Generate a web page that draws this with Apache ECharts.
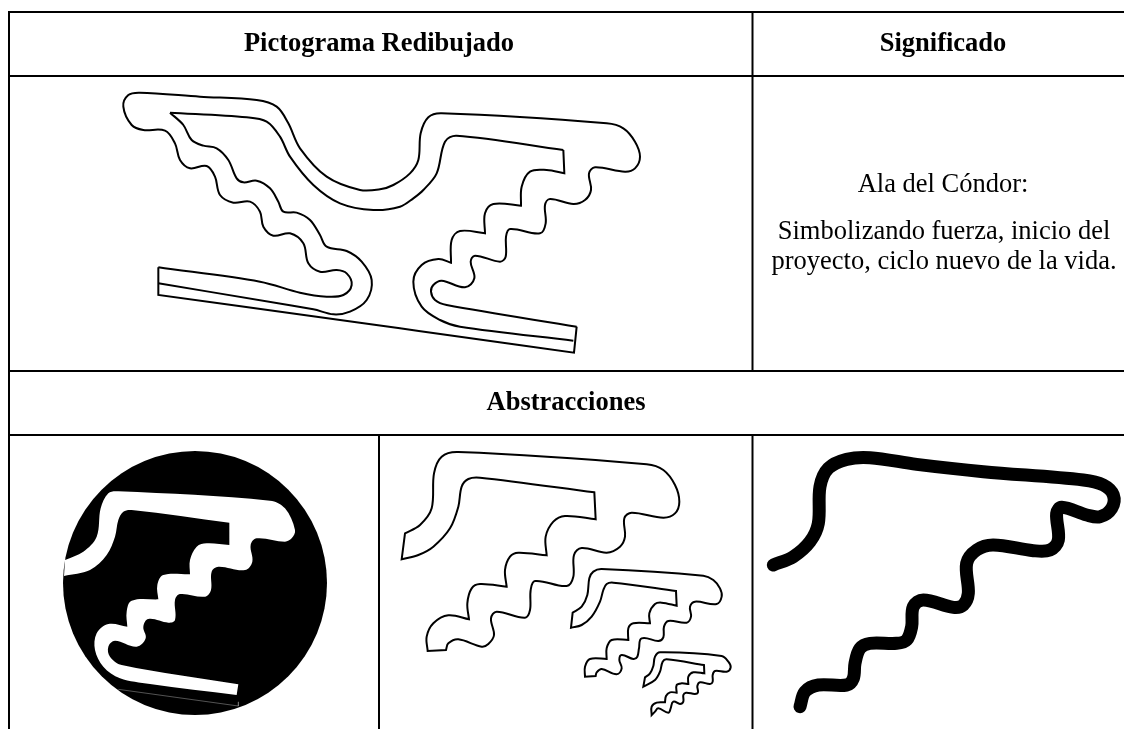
<!DOCTYPE html>
<html><head><meta charset="utf-8">
<style>html,body{margin:0;padding:0;background:#fff}#c{width:1124px;height:729px}</style>
<script src="https://cdn.jsdelivr.net/npm/echarts@6/dist/echarts.min.js"></script>
</head><body><div id="c"></div>
<script>
// Every contour is a list of runs; each run is a smooth curve, runs meet at sharp corners.
const gridRules=[[[8,12],[1124,12]],[[8,76],[1124,76]],[[8,371],[1124,371]],[[8,435],[1124,435]],[[9,12],[9,729]],[[752.5,12],[752.5,371]],[[752.5,435],[752.5,729]],[[379,435],[379,729]]];
const headerLabels=[["Pictograma Redibujado",379,44],["Significado",943,44],["Abstracciones",566,403]];
const bodyLabels=[["Ala del Cóndor:",943,185],["Simbolizando fuerza, inicio del",944,232],["proyecto, ciclo nuevo de la vida.",944,262]];
const z=(ox,oy,s,a)=>a.map(p=>[ox+p[0]/s,oy+p[1]/s]);
const condorOuterRuns=[
 z(100,70,3,[[175,592],[480,635],[600,668],[680,680],[730,675],[755,645],[740,610],[710,600],[660,605],[625,580],[610,520],[570,490],[520,497],[490,470],[480,425],[450,395],[400,398],[360,375],[345,320],[320,288],[270,295],[240,270],[225,220],[195,182],[130,180],[95,165],[70,110],[85,75],[120,68],[300,80],[470,90],[530,110],[565,160],[600,235],[680,320],[780,360],[840,358]]).concat(
 z(350,90,3,[[130,285],[180,250],[205,210],[212,130],[235,82],[275,70],[770,100],[820,115],[855,155],[870,200],[855,235],[825,245],[735,232],[717,250],[723,300],[705,330],[670,342],[600,327],[585,345],[587,400],[570,430],[480,417],[468,440],[467,500],[450,515],[375,497],[362,515],[373,565],[345,592],[275,572],[250,585],[243,605],[255,630],[290,645],[680,710]]))
];
const condorInnerCrossRuns=[
 z(100,70,3,[[210,128],[440,142],[500,155],[540,200],[570,260],[640,345],[720,400],[820,420],[900,410]]).concat(
 z(350,90,3,[[190,325],[220,300],[260,250],[285,155],[320,137],[640,180]]))
];
const condorInnerLeftRuns=[
 z(100,70,3,[[210,128],[250,165],[275,210],[310,227],[350,235],[385,270],[410,325],[430,337],[470,332],[510,355],[535,395],[550,425],[590,428],[630,450],[660,495],[680,530],[740,543],[785,575],[815,630],[800,690],[750,725],[700,733],[640,718],[175,640]])
];
const condorInnerRightRuns=[
 z(350,90,3,[[640,180],[643,250]]),
 z(350,90,3,[[643,250],[590,240],[540,245],[515,290],[513,347]]),
 z(350,90,3,[[513,347],[430,342],[405,370],[405,430]]),
 z(350,90,3,[[405,430],[330,423],[305,450],[303,518]]),
 z(350,90,3,[[303,518],[265,507],[215,525],[190,575],[215,650],[270,690],[330,710],[670,752]])
];
const condorBarRuns=[
 z(100,70,3,[[175,592],[175,675]]),
 z(100,70,3,[[175,675],[900,775]]).concat(z(350,90,3,[[672,788]])),
 z(350,90,3,[[672,788],[680,710]])
];
const whiteWingRuns=[
 z(40,430,3,[[75,390],[130,365],[170,320],[182,235],[205,190],[235,184],[690,212],[735,235],[765,300],[755,325],[735,335],[650,325],[632,345],[637,395],[615,420],[535,410],[515,425],[513,480],[495,500],[420,492],[405,510],[405,570],[385,578],[325,567],[310,590],[317,625],[290,650],[225,632],[205,650],[210,680],[245,705],[595,763]]),
 z(40,430,3,[[595,763],[590,795]]),
 z(40,430,3,[[590,795],[330,762],[240,745],[190,710],[165,660],[170,610],[205,582],[262,590]]),
 z(40,430,3,[[262,590],[260,545],[275,512],[355,508]]),
 z(40,430,3,[[355,508],[352,465],[370,435],[450,433]]),
 z(40,430,3,[[450,433],[450,390],[470,350],[500,340],[568,345]]),
 z(40,430,3,[[568,345],[568,278]]),
 z(40,430,3,[[568,278],[275,240],[250,245],[235,270],[225,320],[200,375],[150,420],[72,438]]),
 z(40,430,3,[[72,438],[75,390]])
];
const largeWingRuns=[
 z(390,430,3,[[45,310],[90,285],[125,235],[132,130],[155,80],[205,66],[770,103],[820,120],[855,165],[868,215],[855,250],[820,263],[725,248],[703,265],[705,320],[690,350],[650,368],[575,354],[552,375],[550,440],[530,468],[435,453],[422,480],[420,540],[405,563],[320,545],[303,565],[312,615],[295,642],[275,650],[205,628],[175,640],[168,660]]),
 z(390,430,3,[[168,660],[113,663]]),
 z(390,430,3,[[113,663],[110,620],[130,580],[175,556],[237,568]]),
 z(390,430,3,[[237,568],[232,520],[245,475],[270,462],[350,470]]),
 z(390,430,3,[[350,470],[345,420],[360,380],[385,368],[470,376]]),
 z(390,430,3,[[470,376],[467,320],[490,275],[525,258],[617,268]]),
 z(390,430,3,[[617,268],[613,187]]),
 z(390,430,3,[[613,187],[270,143],[235,147],[215,170],[205,230],[180,295],[130,350],[85,375],[35,388]]),
 z(390,430,3,[[35,388],[45,310]])
];
const mediumWingRuns=[
 z(560,560,3,[[38,158],[65,140],[82,105],[88,55],[100,35],[125,27],[430,47],[460,60],[480,85],[485,110],[470,132],[405,125],[390,140],[393,170],[380,188],[325,183],[312,200],[310,232],[295,243],[245,235],[237,265],[232,290],[220,297],[185,285],[178,300],[185,325],[170,343],[125,327],[110,337],[107,348]]),
 z(560,560,3,[[107,348],[75,350]]),
 z(560,560,3,[[75,350],[75,320],[90,297],[140,297]]),
 z(560,560,3,[[140,297],[140,265],[155,240],[205,240]]),
 z(560,560,3,[[205,240],[205,205],[220,190],[270,190]]),
 z(560,560,3,[[270,190],[268,160],[285,132],[305,128],[350,137]]),
 z(560,560,3,[[350,137],[348,93]]),
 z(560,560,3,[[348,93],[160,68],[140,72],[130,90],[120,125],[95,170],[65,195],[33,203]]),
 z(560,560,3,[[33,203],[38,158]])
];
const smallWingRuns=[
 z(560,560,3,[[255,352],[270,340],[280,318],[285,290],[300,277],[485,288],[505,305],[512,322],[500,335],[465,333],[458,345],[458,365],[450,372],[420,367],[412,378],[412,400],[378,398],[370,405],[370,425],[360,432],[340,425],[332,445],[325,458],[295,445],[285,455],[275,465]]),
 z(560,560,3,[[275,465],[275,440],[290,428],[315,427]]),
 z(560,560,3,[[315,427],[318,408],[330,397],[350,398]]),
 z(560,560,3,[[350,398],[350,375],[365,370],[385,372]]),
 z(560,560,3,[[385,372],[385,350],[400,337],[433,340]]),
 z(560,560,3,[[433,340],[432,315]]),
 z(560,560,3,[[432,315],[320,298],[308,305],[300,335],[285,360],[250,380]]),
 z(560,560,3,[[250,380],[255,352]])
];
const thickCurveRuns=[
 z(750,430,3,[[70,405],[130,380],[180,335],[205,280],[210,170],[235,115],[290,88],[360,83],[500,103],[700,125],[1000,150],[1060,165],[1090,195],[1085,235],[1050,260],[1010,255],[935,232],[920,250],[925,330],[900,360],[850,362],[730,345],[680,360],[650,400],[655,490],[640,525],[610,532],[520,510],[490,530],[485,590],[470,630],[440,640],[360,640],[330,655],[315,700],[310,745],[290,765],[205,765],[165,785],[150,830]])
];
const faintRuns=[z(40,430,3,[[235,778],[595,828]]),z(40,430,3,[[595,795],[595,828]])];

function tangent(a,b,c){
  const u=[b[0]-a[0],b[1]-a[1]],v=[c[0]-b[0],c[1]-b[1]];
  let t=[u[0]+v[0],u[1]+v[1]];
  const l=Math.hypot(t[0],t[1])||1;
  return [t[0]/l,t[1]/l];
}
function pathOf(api,runs,closed){
  let d='';
  runs.forEach((raw,ri)=>{
    const r=raw.map(p=>api.coord(p));
    if(ri===0) d+=`M${r[0][0]} ${r[0][1]}`;
    for(let i=0;i<r.length-1;i++){
      const p0=r[i-1]||r[i],p1=r[i],p2=r[i+1],p3=r[i+2]||r[i+1];
      const len=Math.hypot(p2[0]-p1[0],p2[1]-p1[1])/3;
      const t1=tangent(p0,p1,p2),t2=tangent(p1,p2,p3);
      d+=`C${p1[0]+t1[0]*len} ${p1[1]+t1[1]*len} ${p2[0]-t2[0]*len} ${p2[1]-t2[1]*len} ${p2[0]} ${p2[1]}`;
    }
  });
  return d+(closed?'Z':'');
}
function contourSeries(name,runs,style,closed){
  return {type:'custom',name,coordinateSystem:'cartesian2d',clip:false,silent:true,
    data:runs.flat(),encode:{x:0,y:1},
    renderItem:(params,api)=>{
      if(params.dataIndex!==0) return null;
      return {type:'path',shape:{pathData:pathOf(api,runs,closed)},style:style};
    }};
}
function discSeries(){
  return {type:'custom',name:'disc',coordinateSystem:'cartesian2d',clip:false,silent:true,
    data:[[195,583,132]],encode:{x:0,y:1},
    renderItem:(params,api)=>{
      const c=api.coord([api.value(0),api.value(1)]);
      const e=api.coord([api.value(0)+api.value(2),api.value(1)]);
      return {type:'circle',shape:{cx:c[0],cy:c[1],r:e[0]-c[0]},style:{fill:'#000'}};
    }};
}
function textSeries(name,rows,font){
  return {type:'custom',name,coordinateSystem:'cartesian2d',clip:false,silent:true,
    data:rows.map(r=>[r[1],r[2]]),encode:{x:0,y:1},
    renderItem:(params,api)=>{
      const c=api.coord([api.value(0),api.value(1)]);
      return {type:'text',x:c[0],y:c[1],style:{text:rows[params.dataIndex][0],font,fill:'#000',align:'center',verticalAlign:'middle'}};
    }};
}
const thin={fill:'none',stroke:'#000',lineWidth:2,lineJoin:'miter'};
const rule={fill:'none',stroke:'#000',lineWidth:2};
const option={
  animation:false,backgroundColor:'#fff',
  grid:{left:0,right:0,top:0,bottom:0},
  xAxis:{type:'value',min:0,max:1124,show:false},
  yAxis:{type:'value',min:0,max:729,inverse:true,show:false},
  series:[
    ...gridRules.map((l,i)=>contourSeries('rule'+i,[l],rule,false)),
    textSeries('headers',headerLabels,'bold 26.5px "Liberation Serif"'),
    textSeries('body',bodyLabels,'26.5px "Liberation Serif"'),
    contourSeries('outer',condorOuterRuns,thin,false),
    contourSeries('innerCross',condorInnerCrossRuns,thin,false),
    contourSeries('innerLeft',condorInnerLeftRuns,thin,false),
    contourSeries('innerRight',condorInnerRightRuns,thin,false),
    contourSeries('bar',condorBarRuns,thin,false),
    discSeries(),
    contourSeries('whiteWing',whiteWingRuns,{fill:'#fff',stroke:'none'},true),
    contourSeries('faint',faintRuns,{fill:'none',stroke:'rgba(255,255,255,.55)',lineWidth:.6},false),
    contourSeries('large',largeWingRuns,thin,true),
    contourSeries('medium',mediumWingRuns,thin,true),
    contourSeries('small',smallWingRuns,thin,true),
    contourSeries('thick',thickCurveRuns,{fill:'none',stroke:'#000',lineWidth:13,lineCap:'round',lineJoin:'round'},false)
  ]
};
const chart=echarts.init(document.getElementById('c'),null,{renderer:'canvas'});
chart.setOption(option);
</script></body></html>
